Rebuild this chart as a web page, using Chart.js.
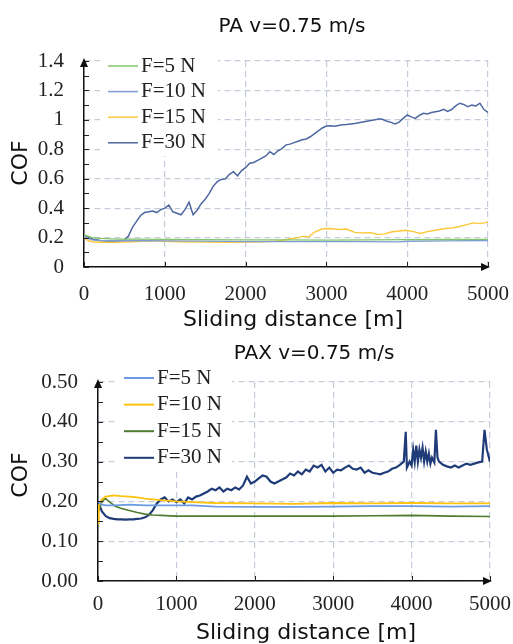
<!DOCTYPE html>
<html><head><meta charset="utf-8">
<script src="https://cdn.jsdelivr.net/npm/chart.js@4.4.1/dist/chart.umd.min.js"></script>
<style>
html,body{margin:0;padding:0;background:#fff;}
#wrap{position:relative;width:513px;height:644px;overflow:hidden;background:#fff;}
canvas{position:absolute;left:0;}
</style></head><body>
<div id="wrap">
<canvas id="c1" width="513" height="335" style="top:0px"></canvas>
<canvas id="c2" width="513" height="309" style="top:335px"></canvas>
</div>
<script>
// ---------------- DATA ----------------
const seriesLabels = ['F=5 N', 'F=10 N', 'F=15 N', 'F=30 N'];
const xTickValues = [0, 1000, 2000, 3000, 4000, 5000];
const xTickLabels = ['0', '1000', '2000', '3000', '4000', '5000'];
const paYTickLabels = ['0', '0.2', '0.4', '0.6', '0.8', '1', '1.2', '1.4'];
const paxYTickLabels = ['0.00', '0.10', '0.20', '0.30', '0.40', '0.50'];

// PA v=0.75 m/s
const paDist5 = [0,50,100,200,400,600,1000,1500,2000,2500,3000,3500,4000,4500,5000];
const paCof5  = [0.22,0.21,0.20,0.195,0.19,0.19,0.188,0.186,0.184,0.184,0.183,0.184,0.186,0.187,0.188];
const paDist10 = [0,50,100,200,400,600,1000,1500,2000,2500,3000,3500,3900,4000,4500,5000];
const paCof10  = [0.21,0.195,0.185,0.18,0.178,0.18,0.178,0.176,0.172,0.172,0.172,0.173,0.171,0.175,0.178,0.18];
const paDist15 = [0,50,100,200,400,600,800,1000,1200,1500,1800,2000,2200,2350,2450,2550,2650,2720,2780,2850,2950,3050,3150,3250,3350,3450,3550,3650,3720,3800,3900,3980,4080,4160,4250,4350,4450,4550,4650,4750,4820,4900,5000];
const paCof15  = [0.20,0.18,0.172,0.168,0.168,0.172,0.178,0.175,0.172,0.17,0.168,0.17,0.172,0.175,0.18,0.19,0.20,0.21,0.205,0.235,0.26,0.262,0.255,0.258,0.235,0.232,0.233,0.22,0.225,0.238,0.245,0.25,0.24,0.228,0.24,0.25,0.26,0.265,0.275,0.29,0.30,0.295,0.305];
const paDist30 = [0,50,100,150,200,250,300,350,400,450,500,550,600,650,700,750,800,850,900,950,
  1000,1050,1100,1150,1200,1250,1300,1350,1400,1450,1500,1550,1600,1650,1700,1750,1800,1850,1900,1950,
  2000,2050,2100,2150,2200,2250,2300,2350,2400,2450,2500,2550,2600,2650,2700,2750,2800,2850,2900,2950,
  3000,3050,3100,3150,3200,3250,3300,3350,3400,3450,3500,3550,3600,3650,3700,3750,3800,3850,3900,3950,
  4000,4050,4100,4150,4200,4250,4300,4350,4400,4450,4500,4550,4600,4650,4700,4750,4800,4850,4900,4950,5000];
const paCof30 = [0.21,0.20,0.19,0.185,0.18,0.178,0.175,0.175,0.176,0.178,
  0.182,0.21,0.27,0.31,0.35,0.37,0.375,0.38,0.37,0.39,
  0.40,0.42,0.375,0.365,0.355,0.39,0.44,0.355,0.385,0.43,
  0.46,0.50,0.55,0.58,0.595,0.60,0.63,0.648,0.62,0.655,
  0.675,0.705,0.71,0.725,0.74,0.755,0.784,0.765,0.79,0.805,
  0.83,0.835,0.845,0.855,0.865,0.87,0.885,0.905,0.925,0.945,
  0.958,0.96,0.957,0.962,0.966,0.968,0.972,0.975,0.98,0.985,
  0.99,0.995,1.0,1.008,1.002,0.99,0.983,0.972,0.985,1.01,
  1.033,1.02,1.01,1.03,1.045,1.04,1.05,1.055,1.06,1.072,
  1.058,1.07,1.095,1.113,1.105,1.09,1.10,1.095,1.113,1.07,1.05];

// PAX v=0.75 m/s
const paxDist5 = [0,50,100,200,400,600,800,1000,1200,1500,2000,2500,3000,3500,4000,4500,5000];
const paxCof5  = [0.20,0.192,0.19,0.19,0.192,0.19,0.19,0.19,0.19,0.187,0.186,0.186,0.187,0.188,0.188,0.187,0.188];
const paxDist10 = [0,10,50,100,200,300,400,500,600,700,800,1000,1200,1500,2000,2500,3000,3500,4000,4500,5000];
const paxCof10  = [0.145,0.19,0.205,0.212,0.215,0.213,0.212,0.21,0.207,0.205,0.203,0.20,0.198,0.196,0.195,0.194,0.196,0.195,0.196,0.195,0.195];
const paxDist15 = [0,40,90,150,220,300,400,500,600,700,800,1000,1500,2000,2500,3000,3500,4000,4500,5000];
const paxCof15  = [0.17,0.195,0.208,0.198,0.188,0.182,0.177,0.172,0.168,0.166,0.165,0.163,0.163,0.163,0.163,0.163,0.164,0.165,0.163,0.162];
const paxDist30 = [0,50,100,150,200,250,300,350,400,450,500,550,600,650,700,750,800,850,900,950,
  1000,1050,1100,1150,1200,1250,1300,1350,1400,1450,1500,1550,1600,1650,1700,1750,1800,1850,1900,1950,
  2000,2050,2100,2150,2200,2250,2300,2350,2400,2450,2500,2550,2600,2650,2700,2750,2800,2850,2900,2950,
  3000,3050,3100,3150,3200,3250,3300,3350,3400,3450,3500,3550,3600,3650,3700,3750,3800,3850,3900,3925,3940,3975,
  4000,4020,4040,4060,4080,4100,4120,4140,4160,4180,4200,4220,4240,4260,4290,4310,4330,4350,4400,4450,
  4500,4550,4600,4650,4700,4750,4800,4850,4900,4930,4960,5000];
const paxCof30 = [0.20,0.175,0.163,0.158,0.156,0.155,0.155,0.154,0.155,0.155,0.156,0.157,0.16,0.166,0.178,0.195,0.205,0.21,0.20,0.205,
  0.198,0.205,0.195,0.21,0.205,0.212,0.215,0.22,0.225,0.232,0.228,0.235,0.225,0.232,0.228,0.235,0.23,0.24,0.262,0.245,
  0.25,0.258,0.265,0.262,0.25,0.245,0.25,0.255,0.26,0.27,0.265,0.275,0.268,0.28,0.275,0.29,0.285,0.292,0.275,0.285,
  0.272,0.28,0.278,0.285,0.29,0.282,0.28,0.285,0.272,0.278,0.272,0.27,0.268,0.272,0.275,0.282,0.285,0.292,0.30,0.375,0.285,0.30,
  0.29,0.33,0.30,0.34,0.30,0.33,0.31,0.335,0.30,0.325,0.30,0.32,0.295,0.31,0.298,0.38,0.31,0.30,0.292,0.288,
  0.285,0.29,0.285,0.29,0.295,0.292,0.295,0.298,0.30,0.38,0.33,0.30];

// ---------------- HELPERS ----------------
function pts(xs, ys) { return xs.map((x, i) => ({x: x, y: ys[i]})); }

const decor = {
  id: 'decor',
  beforeDatasetsDraw(chart, args, o) {
    // white legend background hiding the grid
    const ctx = chart.ctx;
    ctx.save();
    ctx.fillStyle = '#fff';
    ctx.fillRect(o.legBox[0], o.legBox[1], o.legBox[2], o.legBox[3]);
    ctx.restore();
  },
  afterDraw(chart, args, o) {
    const {ctx, chartArea: a, scales: {x, y}} = chart;
    ctx.save();
    // inward tick marks
    ctx.strokeStyle = '#222'; ctx.lineWidth = 1;
    y.ticks.forEach(t => {
      const py = Math.round(y.getPixelForValue(t.value)) + 0.5;
      ctx.beginPath(); ctx.moveTo(a.left, py); ctx.lineTo(a.left + 5, py); ctx.stroke();
    });
    x.ticks.forEach(t => {
      const px = Math.round(x.getPixelForValue(t.value)) + 0.5;
      ctx.beginPath(); ctx.moveTo(px, a.bottom); ctx.lineTo(px, a.bottom - 5); ctx.stroke();
    });
    // arrow heads
    ctx.fillStyle = '#111';
    ctx.beginPath();
    ctx.moveTo(a.left, a.top - 3); ctx.lineTo(a.left - 4, a.top + 6); ctx.lineTo(a.left + 4, a.top + 6); ctx.closePath(); ctx.fill();
    ctx.beginPath();
    ctx.moveTo(a.right + 2, a.bottom); ctx.lineTo(a.right - 7, a.bottom - 4); ctx.lineTo(a.right - 7, a.bottom + 4); ctx.closePath(); ctx.fill();
    // texts
    ctx.fillStyle = '#111';
    ctx.textAlign = 'center'; ctx.textBaseline = 'middle';
    ctx.font = '20px "DejaVu Sans"';
    ctx.fillText(o.title, o.titleX, o.titleY);
    ctx.font = '22px "DejaVu Sans"';
    ctx.fillText('Sliding distance [m]', o.xTitleX, o.xTitleY);
    ctx.save();
    ctx.translate(o.yTitleX, o.yTitleY); ctx.rotate(-Math.PI / 2);
    ctx.fillText('COF', 0, 0);
    ctx.restore();
    // legend
    ctx.font = '21px "Liberation Serif"'; ctx.textAlign = 'left';
    chart.data.datasets.forEach((ds, i) => {
      const ly = o.legY + i * o.legDy;
      ctx.strokeStyle = ds.borderColor; ctx.lineWidth = o.legLW;
      ctx.beginPath(); ctx.moveTo(o.legX0, ly); ctx.lineTo(o.legX1, ly); ctx.stroke();
      ctx.fillStyle = '#222';
      ctx.fillText(ds.label, o.legTX, ly);
    });
    ctx.restore();
  }
};

const gridColor = '#c5cddd';

function makeChart(id, datasets, cfg) {
  return new Chart(document.getElementById(id), {
    type: 'line',
    data: {datasets: datasets},
    plugins: [decor],
    options: {
      responsive: false, animation: false,
      layout: {padding: {top: cfg.padTop, left: 0, right: cfg.padRight, bottom: 0}},
      elements: {point: {radius: 0}, line: {tension: 0}},
      plugins: {legend: {display: false}, tooltip: {enabled: false}, title: {display: false}, decor: cfg.decor},
      scales: {
        x: {
          type: 'linear', min: 0, max: 5000,
          afterBuildTicks: s => { s.ticks = xTickValues.map(v => ({value: v})); },
          afterFit: s => { s.height = cfg.xHeight; s.paddingLeft = 0; s.paddingRight = 0; },
          ticks: {autoSkip: false, maxRotation: 0, padding: cfg.xPad, color: '#222', font: {family: 'Liberation Serif', size: 21},
            callback: (v, i) => xTickLabels[i]},
          grid: {color: gridColor, lineWidth: 1.2, drawTicks: false},
          border: {display: true, color: '#111', width: 1.5, dash: [6, 4]}
        },
        y: {
          type: 'linear', min: 0, max: cfg.yMax,
          ticks: {stepSize: cfg.yStep, maxTicksLimit: 30, autoSkip: false, padding: 20, color: '#222',
            font: {family: 'Liberation Serif', size: 21},
            callback: (v, i) => (i % 2 === 0 ? cfg.yLabels[i / 2] : '')},
          afterFit: s => { s.width = cfg.yWidth; s.paddingTop = 0; s.paddingBottom = 0; },
          grid: {color: c => (c.index % 2 === 0 ? gridColor : 'rgba(0,0,0,0)'), lineWidth: 1.2, drawTicks: false},
          border: {display: true, color: '#111', width: 1.5, dash: [6, 4]}
        }
      }
    }
  });
}

makeChart('c1', [
  {label: seriesLabels[0], data: pts(paDist5, paCof5), borderColor: '#84c46c', borderWidth: 1.3},
  {label: seriesLabels[1], data: pts(paDist10, paCof10), borderColor: '#7d9dd3', borderWidth: 1.3},
  {label: seriesLabels[2], data: pts(paDist15, paCof15), borderColor: '#fcc83a', borderWidth: 1.4},
  {label: seriesLabels[3], data: pts(paDist30, paCof30), borderColor: '#4d68a0', borderWidth: 1.5}
], {
  padTop: 61, padRight: 25, xHeight: 68, yWidth: 84, xPad: 15, yMax: 1.4, yStep: 0.1, yLabels: paYTickLabels,
  decor: {title: 'PA v=0.75 m/s', titleX: 292, titleY: 27, xTitleX: 293, xTitleY: 320, yTitleX: 21, yTitleY: 163,
    legX0: 108, legX1: 138, legTX: 141, legY: 66, legDy: 25.6, legLW: 1.5, legBox: [100, 52, 118, 104]}
});

makeChart('c2', [
  {label: seriesLabels[0], data: pts(paxDist5, paxCof5), borderColor: '#6a9be3', borderWidth: 1.8},
  {label: seriesLabels[1], data: pts(paxDist10, paxCof10), borderColor: '#ffc20e', borderWidth: 1.8},
  {label: seriesLabels[2], data: pts(paxDist15, paxCof15), borderColor: '#4e7d32', borderWidth: 1.6},
  {label: seriesLabels[3], data: pts(paxDist30, paxCof30), borderColor: '#1f3c78', borderWidth: 2.2}
], {
  padTop: 47, padRight: 23, xHeight: 63, yWidth: 98, xPad: 11, yMax: 0.5, yStep: 0.05, yLabels: paxYTickLabels,
  decor: {title: 'PAX v=0.75 m/s', titleX: 314, titleY: 19, xTitleX: 306, xTitleY: 298, yTitleX: 21, yTitleY: 140,
    legX0: 124, legX1: 154, legTX: 157, legY: 43, legDy: 26.6, legLW: 2, legBox: [116, 30, 116, 105]}
});
</script>
</body></html>
